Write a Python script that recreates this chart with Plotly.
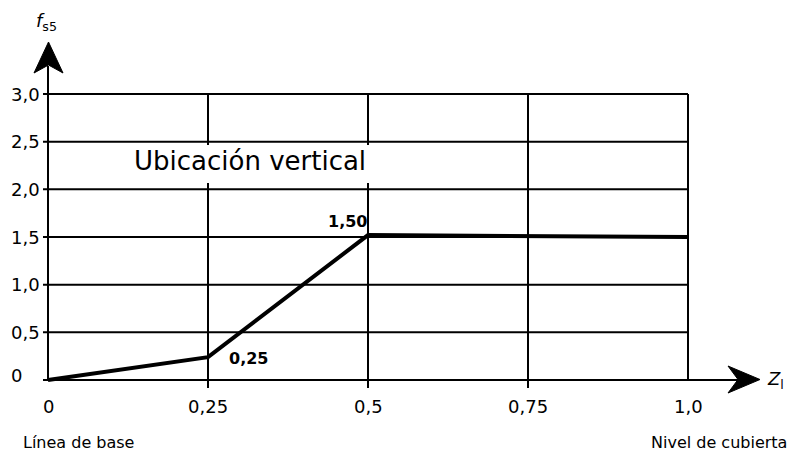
import plotly.graph_objects as go

# ---- data ----
z_values = [0, 0.25, 0.5, 1.0]
fs5_values = [0, 0.24, 1.52, 1.50]
x_ticks = [0, 0.25, 0.5, 0.75, 1.0]
x_tick_labels = ["0", "0,25", "0,5", "0,75", "1,0"]
y_ticks = [0, 0.5, 1.0, 1.5, 2.0, 2.5, 3.0]
y_tick_labels = ["0", "0,5", "1,0", "1,5", "2,0", "2,5", "3,0"]
point_labels = ["1,50", "0,25"]
title_text = "Ubicación vertical"
left_caption = "Línea de base"
right_caption = "Nivel de cubierta"

# ---- pixel geometry helpers ----
W, H = 795, 454
X0, X1 = 48, 688   # px of z=0 and z=1
Y0, Y3 = 380, 94   # px of f=0 and f=3
sx = (X1 - X0) / 1.0
sy = (Y0 - Y3) / 3.0


def dx(px):
    return (px - X0) / sx


def dy(py):
    return (Y0 - py) / sy


FONT = "DejaVu Sans"
BLACK = "#000000"

fig = go.Figure()
fig.add_trace(go.Scatter(
    x=z_values, y=fs5_values, mode="lines",
    line=dict(color=BLACK, width=4),
    hoverinfo="skip", showlegend=False,
))

shapes = []
# horizontal grid lines (with small tick to the left of the axis)
for yv in y_ticks[1:]:
    shapes.append(dict(type="line", xref="x", yref="y", x0=dx(43), x1=1.0,
                       y0=yv, y1=yv, line=dict(color=BLACK, width=2),
                       layer="between"))
# vertical grid lines
for xv in x_ticks[1:]:
    ybot = 0 if xv == 1.0 else dy(388)
    shapes.append(dict(type="line", xref="x", yref="y", x0=xv, x1=xv,
                       y0=ybot, y1=3.0, line=dict(color=BLACK, width=2),
                       layer="between"))
# white box behind the title text
shapes.append(dict(type="rect", xref="x", yref="y", x0=dx(126), x1=dx(384),
                   y0=dy(183), y1=dy(145), fillcolor="white",
                   line=dict(width=0), layer="between"))
# y axis line + arrow
shapes.append(dict(type="line", xref="x", yref="y", x0=0, x1=0, y0=0,
                   y1=dy(66), line=dict(color=BLACK, width=2), layer="between"))
shapes.append(dict(type="path", xref="x", yref="y",
                   path=(f"M {dx(48.5)},{dy(42)} L {dx(63)},{dy(73)} "
                         f"L {dx(48.5)},{dy(65)} L {dx(34)},{dy(73)} Z"),
                   fillcolor=BLACK, line=dict(color=BLACK, width=1),
                   layer="above"))
# x axis line + arrow
shapes.append(dict(type="line", xref="x", yref="y", x0=dx(43), x1=dx(738),
                   y0=0, y1=0, line=dict(color=BLACK, width=2), layer="between"))
shapes.append(dict(type="path", xref="x", yref="y",
                   path=(f"M {dx(760)},{dy(379.5)} L {dx(728)},{dy(366)} "
                         f"L {dx(738)},{dy(379.5)} L {dx(728)},{dy(393)} Z"),
                   fillcolor=BLACK, line=dict(color=BLACK, width=1),
                   layer="above"))

ann = []
# y tick labels
for yv, lab in zip(y_ticks, y_tick_labels):
    ypos = dy(375) if yv == 0 else yv
    ann.append(dict(x=dx(9), y=ypos, xref="x", yref="y", text=lab,
                    showarrow=False, xanchor="left", yanchor="middle",
                    font=dict(family=FONT, size=18, color=BLACK)))
# x tick labels
for xv, lab in zip(x_ticks, x_tick_labels):
    ann.append(dict(x=xv, y=dy(406), xref="x", yref="y", text=lab,
                    showarrow=False, xanchor="center", yanchor="middle",
                    font=dict(family=FONT, size=18, color=BLACK)))
# title in the grid
ann.append(dict(x=dx(250), y=dy(161), xref="x", yref="y", text=title_text,
                showarrow=False, xanchor="center", yanchor="middle",
                font=dict(family=FONT, size=26, color=BLACK)))
# point labels
ann.append(dict(x=dx(347), y=dy(221), xref="x", yref="y",
                text=f"<b>{point_labels[0]}</b>", showarrow=False,
                xanchor="center", yanchor="middle",
                font=dict(family=FONT, size=16, color=BLACK)))
ann.append(dict(x=dx(248), y=dy(358), xref="x", yref="y",
                text=f"<b>{point_labels[1]}</b>", showarrow=False,
                xanchor="center", yanchor="middle",
                font=dict(family=FONT, size=16, color=BLACK)))
# captions
ann.append(dict(x=dx(21), y=dy(442), xref="x", yref="y", text=left_caption,
                showarrow=False, xanchor="left", yanchor="middle",
                font=dict(family=FONT, size=16, color=BLACK)))
ann.append(dict(x=dx(789), y=dy(442), xref="x", yref="y", text=right_caption,
                showarrow=False, xanchor="right", yanchor="middle",
                font=dict(family=FONT, size=16, color=BLACK)))
# axis titles
ann.append(dict(x=dx(34), y=dy(22), xref="x", yref="y",
                text="<i>f</i><sub>s5</sub>", showarrow=False,
                xanchor="left", yanchor="middle",
                font=dict(family=FONT, size=18, color=BLACK)))
ann.append(dict(x=dx(765), y=dy(380), xref="x", yref="y",
                text="<i>Z</i><sub>l</sub>", showarrow=False,
                xanchor="left", yanchor="middle",
                font=dict(family=FONT, size=18, color=BLACK)))

fig.update_layout(
    width=W, height=H,
    margin=dict(l=0, r=0, t=0, b=0),
    paper_bgcolor="white", plot_bgcolor="white",
    xaxis=dict(range=[dx(0), dx(W)], visible=False, fixedrange=True),
    yaxis=dict(range=[dy(H), dy(0)], visible=False, fixedrange=True),
    shapes=shapes, annotations=ann, showlegend=False,
)

fig.write_html(
    "out.html",
    config={"displayModeBar": False},
    post_script="document.body.style.margin='0';document.body.style.overflow='hidden';",
)
